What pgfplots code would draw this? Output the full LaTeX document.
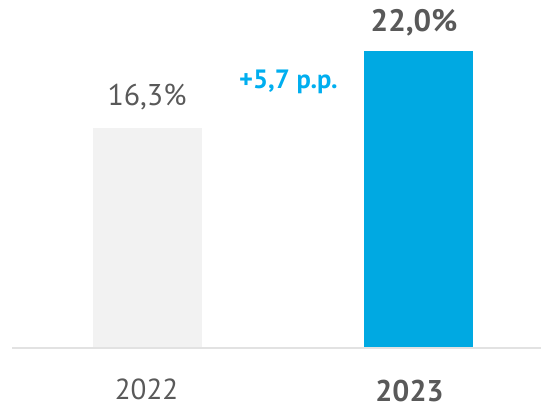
\documentclass[border=0pt]{standalone}
\usepackage{pgfplots}
\pgfplotsset{compat=1.18}
\usepackage{fontspec}
\setmainfont{PT Sans}
\definecolor{lab}{HTML}{595959}
\definecolor{barblue}{HTML}{00A9E2}
\definecolor{txtblue}{HTML}{00AEEF}
\definecolor{bargray}{HTML}{F2F2F2}
\definecolor{axgray}{HTML}{E2E2E2}
\begin{document}
\begin{tikzpicture}
\begin{axis}[
  scale only axis, width=541pt, height=405pt,
  xmin=0, xmax=541, ymin=-4.312, ymax=25.80,
  hide axis, clip=false,
]
\draw[axgray, line width=1.6pt] (axis cs:12,-0.07) -- (axis cs:541,-0.07);
\addplot[ybar, bar width=109, bar shift=0pt, fill=bargray, draw=none] coordinates {(147.5,16.3)};
\addplot[ybar, bar width=109, bar shift=0pt, fill=barblue, draw=none] coordinates {(418.5,22.0)};
\node[anchor=base, text=lab, font=\fontsize{30}{36}\selectfont, inner sep=0pt] at (axis cs:147,17.94) {16,3\%};
\node[anchor=base, text=lab, font=\fontsize{31}{36}\selectfont\bfseries, inner sep=0pt] at (axis cs:414,23.46) {22,0\%};
\node[anchor=base, text=txtblue, font=\fontsize{26.5}{30}\selectfont\bfseries, inner sep=0pt] at (axis cs:288.5,19.23) {+5,7 p.p.};
\node[anchor=base, text=lab, font=\fontsize{29}{36}\selectfont, inner sep=0pt] at (axis cs:146.5,-3.90) {2022};
\node[anchor=base, text=lab, font=\fontsize{30}{36}\selectfont\bfseries, inner sep=0pt] at (axis cs:409.5,-4.02) {2023};
\end{axis}
\pgfresetboundingbox
\path (current axis.south west) rectangle (current axis.north east);
\end{tikzpicture}
\end{document}
